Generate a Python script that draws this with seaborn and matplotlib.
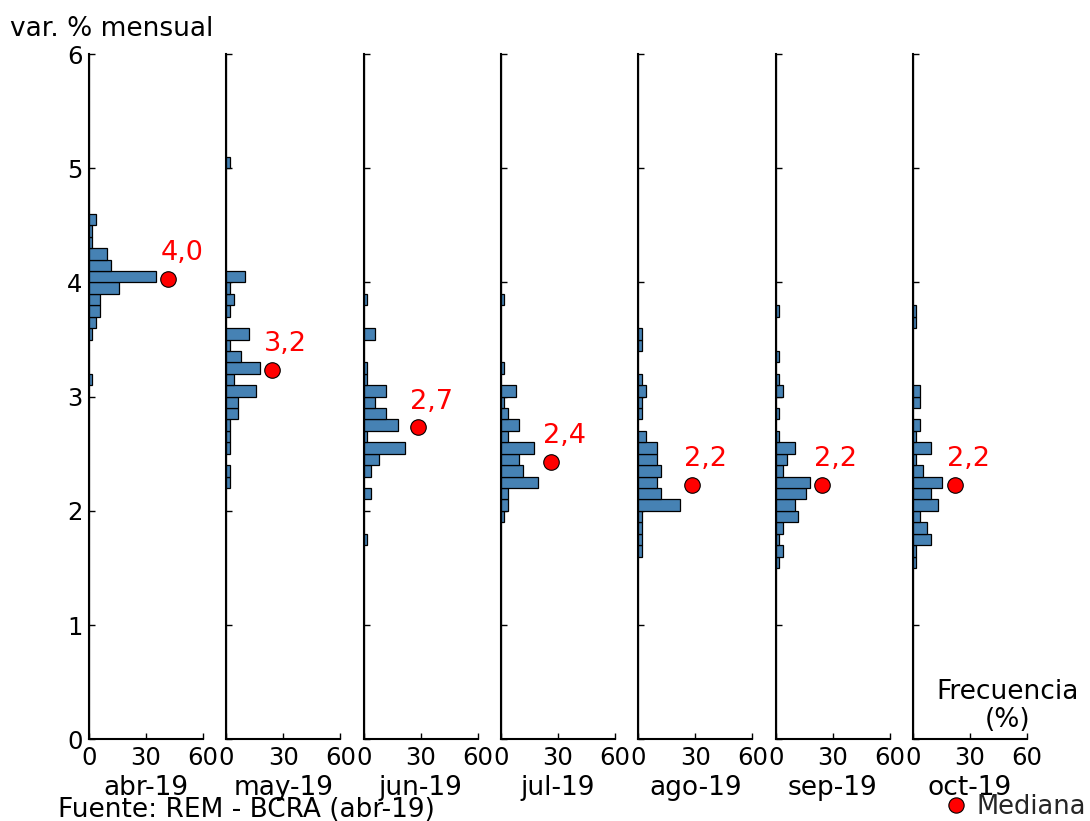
import numpy as np
import pandas as pd
import matplotlib
matplotlib.use('Agg')
import matplotlib.pyplot as plt
from matplotlib.lines import Line2D
import seaborn as sns

# ---------------- data ----------------
months = ['abr-19', 'may-19', 'jun-19', 'jul-19', 'ago-19', 'sep-19', 'oct-19']
medians = [4.03, 3.23, 2.73, 2.43, 2.23, 2.23, 2.23]

# lower edge of each 0.1-wide bin (var. % mensual) and its frequency (%)
abr_bins = [4.5, 4.4, 4.3, 4.2, 4.1, 4.0, 3.9, 3.8, 3.7, 3.6, 3.5, 3.1]
abr_freq = [3.7, 1.75, 1.75, 9.6, 11.8, 35.3, 15.6, 5.8, 5.8, 3.7, 1.75, 1.75]

may_bins = [5.0, 4.0, 3.9, 3.8, 3.7, 3.5, 3.4, 3.3, 3.2, 3.1, 3.0, 2.9, 2.8, 2.7, 2.6, 2.5, 2.3, 2.2]
may_freq = [1.75, 9.6, 1.75, 3.9, 1.75, 11.8, 1.75, 7.7, 17.5, 3.9, 15.6, 6.0, 6.0, 1.75, 1.75, 1.75, 1.75, 1.75]

jun_bins = [3.8, 3.5, 3.2, 3.1, 3.0, 2.9, 2.8, 2.7, 2.6, 2.5, 2.4, 2.3, 2.1, 1.7]
jun_freq = [2.0, 6.0, 2.0, 2.0, 12.0, 6.0, 12.0, 18.0, 2.0, 22.0, 8.0, 4.0, 4.0, 2.0]

jul_bins = [3.8, 3.2, 3.0, 2.9, 2.8, 2.7, 2.6, 2.5, 2.4, 2.3, 2.2, 2.1, 2.0, 1.9]
jul_freq = [1.75, 1.75, 7.7, 1.75, 3.9, 9.6, 3.9, 17.5, 9.6, 11.8, 19.6, 3.9, 3.9, 1.75]

ago_bins = [3.5, 3.4, 3.1, 3.0, 2.9, 2.8, 2.6, 2.5, 2.4, 2.3, 2.2, 2.1, 2.0, 1.9, 1.8, 1.7, 1.6]
ago_freq = [1.75, 1.75, 1.75, 3.9, 1.75, 1.75, 3.9, 9.6, 9.6, 11.8, 9.6, 11.8, 21.8, 1.75, 1.75, 1.75, 1.75]

sep_bins = [3.7, 3.3, 3.1, 3.0, 2.8, 2.6, 2.5, 2.4, 2.3, 2.2, 2.1, 2.0, 1.9, 1.8, 1.7, 1.6, 1.5]
sep_freq = [2.0, 2.0, 2.0, 4.0, 2.0, 2.0, 10.0, 6.0, 4.0, 17.9, 15.8, 10.0, 11.9, 4.0, 2.0, 4.0, 2.0]

oct_bins = [3.7, 3.6, 3.0, 2.9, 2.7, 2.6, 2.5, 2.4, 2.3, 2.2, 2.1, 2.0, 1.9, 1.8, 1.7, 1.6, 1.5]
oct_freq = [1.6, 1.6, 3.5, 3.5, 3.5, 1.6, 9.5, 1.6, 5.4, 15.4, 9.5, 13.3, 3.5, 7.5, 9.5, 1.6, 1.6]

all_bins = [abr_bins, may_bins, jun_bins, jul_bins, ago_bins, sep_bins, oct_bins]
all_freq = [abr_freq, may_freq, jun_freq, jul_freq, ago_freq, sep_freq, oct_freq]

# ---------------- style ----------------
sns.set_theme(style='ticks')
plt.rcParams['font.family'] = ['DejaVu Sans']
plt.rcParams['axes.linewidth'] = 1.5

W, H = 1090, 821
fig = plt.figure(figsize=(W / 100, H / 100), dpi=100)
fig.patch.set_facecolor('white')

left0, step, width = 89, 137.33, 114
bottom_px, top_px = 739.3, 54

for i, (month, bins, freq, med) in enumerate(zip(months, all_bins, all_freq, medians)):
    ax = fig.add_axes([(left0 + i * step) / W, 1 - bottom_px / H,
                       width / W, (bottom_px - top_px) / H])
    df = pd.DataFrame({'v': np.array(bins, dtype=float) + 0.05,
                       'f': np.array(freq, dtype=float)})
    sns.histplot(data=df, y='v', weights='f', binwidth=0.1, binrange=(0.0, 6.0),
                 ax=ax, color='#4682B4', edgecolor='black', linewidth=0.9,
                 alpha=1)
    xdot = max(freq) + 6.5
    ax.scatter([xdot], [med], s=125, color='red', edgecolor='black',
               linewidth=0.8, zorder=5, clip_on=False)
    lab = f'{med:.1f}'.replace('.', ',')
    ax.text(xdot - 4.2, med + 0.166, lab, color='red', fontsize=19.5,
            ha='left', va='baseline')
    ax.set_xlim(0, 60)
    ax.set_ylim(0, 6)
    ax.set_xticks([0, 30, 60])
    ax.set_yticks(range(7))
    ax.set_facecolor('white')
    for s in ['top', 'right']:
        ax.spines[s].set_visible(False)
    for s in ['left', 'bottom']:
        ax.spines[s].set_color('black')
        ax.spines[s].set_linewidth(1.5)
    ax.tick_params(direction='in', length=4, width=1, labelsize=17.5, pad=4.5,
                   colors='black', top=False, right=False)
    if i > 0:
        ax.set_yticklabels([])
    ax.set_ylabel('')
    ax.set_xlabel(month, fontsize=19, labelpad=4, color='black')
    ax.grid(False)

fig.text(10 / W, 1 - 36 / H, 'var. % mensual', fontsize=19, ha='left',
         va='baseline', color='black')
fig.text(58 / W, 1 - 817 / H, 'Fuente: REM - BCRA (abr-19)', fontsize=19,
         ha='left', va='baseline', color='black')
fig.text(1008 / W, 1 - 727 / H, 'Frecuencia\n(%)', fontsize=19, ha='center',
         va='baseline', color='black', linespacing=1.12)

handle = Line2D([], [], marker='o', linestyle='none', markersize=11,
                markerfacecolor='red', markeredgecolor='black', markeredgewidth=0.8)
fig.legend(handles=[handle], labels=['Mediana'], loc='lower right',
           bbox_to_anchor=(1.0, -0.004), frameon=False, fontsize=18.5,
           handletextpad=0.3, borderaxespad=0.0, borderpad=0.15,
           handlelength=1.0)

fig.savefig('out.png', dpi=100, facecolor='white')
